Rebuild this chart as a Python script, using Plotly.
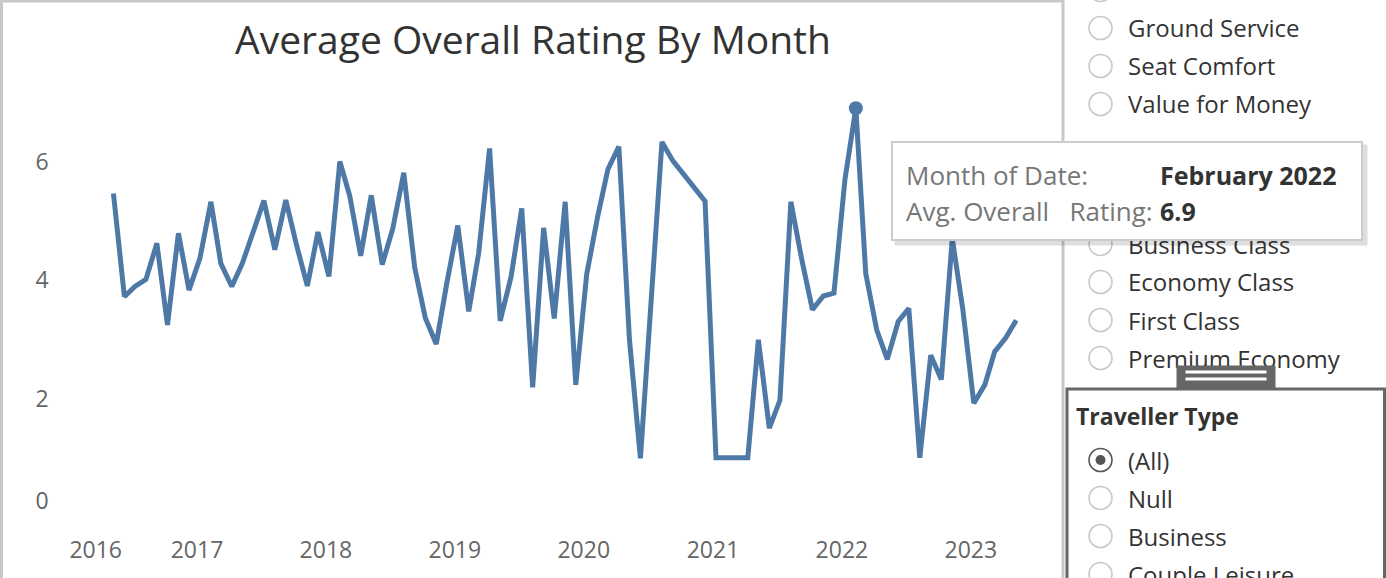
import plotly.graph_objects as go
import datetime as dt

# ---------------- data ----------------
months = [
    "2016-05", "2016-06", "2016-07", "2016-08", "2016-09", "2016-10", "2016-11", "2016-12",
    "2017-01", "2017-02", "2017-03", "2017-04", "2017-05", "2017-06", "2017-07", "2017-08",
    "2017-09", "2017-10", "2017-11", "2017-12",
    "2018-01", "2018-02", "2018-03", "2018-04", "2018-05", "2018-06", "2018-07", "2018-08",
    "2018-09", "2018-10", "2018-11", "2018-12",
    "2019-01", "2019-02", "2019-03", "2019-04", "2019-05", "2019-06", "2019-07", "2019-08",
    "2019-09", "2019-10", "2019-11", "2019-12",
    "2020-01", "2020-02", "2020-03", "2020-04", "2020-05", "2020-06", "2020-08", "2020-09",
    "2020-12",
    "2021-01", "2021-04", "2021-05", "2021-06", "2021-07", "2021-08", "2021-09", "2021-10",
    "2021-11", "2021-12",
    "2022-01", "2022-02", "2022-03", "2022-04", "2022-05", "2022-06", "2022-07", "2022-08",
    "2022-09", "2022-10", "2022-11", "2022-12",
    "2023-01", "2023-02", "2023-03", "2023-04", "2023-05",
]
avg_rating = [
    5.46, 3.72, 3.89, 4.01, 4.62, 3.24, 4.79, 3.83,
    4.37, 5.32, 4.28, 3.89, 4.28, 4.84, 5.34, 4.51,
    5.35, 4.60, 3.90, 4.81,
    4.06, 6.00, 5.42, 4.41, 5.43, 4.26, 4.87, 5.81,
    4.21, 3.36, 2.92, 3.95,
    4.92, 3.47, 4.45, 6.22, 3.31, 4.06, 5.21, 2.19,
    4.88, 3.35, 5.32, 2.23,
    4.10, 5.07, 5.87, 6.25, 2.99, 0.99, 6.33, 6.01,
    5.33,
    1.00, 1.00, 2.99, 1.50, 1.97, 5.32, 4.34, 3.50,
    3.73, 3.78,
    5.69, 6.90, 4.11, 3.16, 2.66, 3.30, 3.52, 1.00,
    2.73, 2.32, 4.70, 3.50,
    1.92, 2.23, 2.79, 3.02, 3.32,
]
y_ticks = [2, 4, 6]
x_tick_years = [2017, 2018, 2019, 2020, 2021, 2022, 2023]
first_year_label = 2016

filter_top_items = ["Ground Service", "Seat Comfort", "Value for Money"]
class_items = ["Business Class", "Economy Class", "First Class", "Premium Economy"]
traveller_items = ["(All)", "Null", "Business", "Couple Leisure"]
traveller_selected = "(All)"

# ---------------- helpers ----------------
W, H = 1386, 578
FONT = "Open Sans"
BLUE = "#4e79a7"


def px(x):
    return x / W


def py(y):
    return 1 - y / H


dates = [m + "-01" for m in months]
peak_i = max(range(len(avg_rating)), key=lambda i: avg_rating[i])
peak_date = dt.date.fromisoformat(dates[peak_i])

fig = go.Figure()
fig.add_trace(go.Scatter(
    x=dates, y=avg_rating, mode="lines",
    line=dict(color=BLUE, width=5), hoverinfo="skip", showlegend=False,
))
fig.add_trace(go.Scatter(
    x=[dates[peak_i]], y=[avg_rating[peak_i]], mode="markers",
    marker=dict(color=BLUE, size=14), hoverinfo="skip", showlegend=False,
))
# invisible trace to carry the overlay axes (edge labels)
fig.add_trace(go.Scatter(
    x=dates, y=avg_rating, mode="lines", xaxis="x2", yaxis="y2",
    line=dict(width=0, color="rgba(0,0,0,0)"), hoverinfo="skip", showlegend=False,
))

x_range = ["2016-01-01", "2023-08-01"]
y_range = [0, 7.2]
tickfont = dict(family=FONT, size=23, color="#666666")

shapes = []
annotations = []

# left worksheet border
shapes.append(dict(type="rect", xref="paper", yref="paper",
                   x0=px(1.5), x1=px(1063), y0=py(700), y1=py(1),
                   line=dict(color="#c8c8c8", width=3), fillcolor="rgba(0,0,0,0)", layer="below"))
# traveller type box
shapes.append(dict(type="rect", xref="paper", yref="paper",
                   x0=px(1067), x1=px(1384.5), y0=py(700), y1=py(389),
                   line=dict(color="#666666", width=3), fillcolor="rgba(0,0,0,0)"))


def radio(yc, selected=False):
    r = 11.5
    col = "#555555" if selected else "#c8c8c8"
    shapes.append(dict(type="circle", xref="paper", yref="paper",
                       x0=px(1100.5 - r), x1=px(1100.5 + r), y0=py(yc + r), y1=py(yc - r),
                       line=dict(color=col, width=1.6), fillcolor="white"))
    if selected:
        r2 = 5
        shapes.append(dict(type="circle", xref="paper", yref="paper",
                           x0=px(1100.5 - r2), x1=px(1100.5 + r2), y0=py(yc + r2), y1=py(yc - r2),
                           line=dict(color=col, width=0), fillcolor=col))


def label(text, x, y, size=24, color="#333333", bold=False):
    annotations.append(dict(xref="paper", yref="paper", x=px(x - 3), y=py(y),
                            xanchor="left", yanchor="middle", showarrow=False,
                            text=f"<b>{text}</b>" if bold else text,
                            font=dict(family=FONT, size=size, color=color)))


# partially visible item above the top edge
radio(-10)
for i, t in enumerate(filter_top_items):
    yc = 28 + 38 * i
    radio(yc)
    label(t, 1129, yc)
for i, t in enumerate(class_items):
    yc = 244 + 38 * i
    radio(yc)
    label(t, 1129, yc)

label("Traveller Type", 1077, 416, size=23, color="#333333", bold=True)
for i, t in enumerate(traveller_items):
    yc = 460 + 38 * i
    radio(yc, selected=(t == traveller_selected))
    label(t, 1129, yc)

# resize handle of the traveller box
annotations.append(dict(xref="paper", yref="paper", x=px(1226), y=py(377), xanchor="center",
                        yanchor="middle", showarrow=False, text=" ", width=98, height=22,
                        bgcolor="#666666", borderpad=0, font=dict(size=1)))
for ly in (372, 379):
    annotations.append(dict(xref="paper", yref="paper", x=px(1226), y=py(ly), xanchor="center",
                            yanchor="middle", showarrow=False, text=" ", width=80, height=2,
                            bgcolor="white", borderpad=0, font=dict(size=1)))

# tooltip (shadow, box, text)
tx0, tx1, ty0, ty1 = 891, 1363, 141, 241
annotations.append(dict(xref="paper", yref="paper", x=px((tx0 + tx1) / 2 + 4), y=py((ty0 + ty1) / 2 + 4),
                        xanchor="center", yanchor="middle", showarrow=False, text=" ",
                        width=tx1 - tx0, height=ty1 - ty0, bgcolor="rgba(0,0,0,0.13)", borderpad=0,
                        font=dict(size=1)))
annotations.append(dict(xref="paper", yref="paper", x=px((tx0 + tx1) / 2), y=py((ty0 + ty1) / 2),
                        xanchor="center", yanchor="middle", showarrow=False, text=" ",
                        width=tx1 - tx0 - 4, height=ty1 - ty0 - 4, bgcolor="white",
                        bordercolor="#cccccc", borderwidth=2, borderpad=0, font=dict(size=1)))
label("Month of Date:", 907, 175, size=26, color="#777777")
label(peak_date.strftime("%B %Y"), 1161, 175, size=25, color="#333333", bold=True)
label("Avg. Overall\u00a0\u00a0\u00a0Rating:", 907, 211, size=26, color="#777777")
label(f"{avg_rating[peak_i]:.1f}", 1161, 211, size=25, color="#333333", bold=True)

fig.update_layout(
    width=W, height=H,
    margin=dict(l=0, r=0, t=0, b=0),
    paper_bgcolor="white", plot_bgcolor="white",
    font=dict(family=FONT),
    title=dict(text="Average Overall Rating By Month", x=533 / W, xanchor="center",
               y=1 - 40 / H, yanchor="middle", yref="container",
               font=dict(family=FONT, size=39, color="#333333")),
    xaxis=dict(domain=[px(70.7), px(1048.7)], range=x_range, anchor="y",
               tickvals=[f"{y}-01-01" for y in x_tick_years],
               ticktext=[str(y) for y in x_tick_years],
               showgrid=False, zeroline=False, showline=False, ticks="",
               tickfont=tickfont, ticklabelstandoff=17, ticklabelshift=-3),
    yaxis=dict(domain=[1 - 517 / H, 1 - 90.4 / H], range=y_range, anchor="x",
               tickvals=y_ticks, ticktext=[str(v) for v in y_ticks],
               showgrid=False, zeroline=False, showline=False, ticks="",
               tickfont=tickfont, ticklabelstandoff=21),
    xaxis2=dict(overlaying="x", range=x_range, anchor="y2", side="bottom",
                tickvals=[f"{first_year_label}-01-01"], ticktext=[str(first_year_label)],
                showgrid=False, zeroline=False, showline=False, ticks="",
                tickfont=tickfont, ticklabelstandoff=17, ticklabelshift=25),
    yaxis2=dict(overlaying="y", range=y_range, anchor="x2", side="left",
                tickvals=[0], ticktext=["0"],
                showgrid=False, zeroline=False, showline=False, ticks="",
                tickfont=tickfont, ticklabelstandoff=21, ticklabelshift=-16),
    shapes=shapes,
    annotations=annotations,
    showlegend=False,
    hovermode=False,
)

fig.write_html(
    "out.html",
    config={"displayModeBar": False},
    post_script="document.documentElement.style.margin='0';document.body.style.margin='0';"
                "document.body.style.overflow='hidden';document.documentElement.style.overflow='hidden';",
)
